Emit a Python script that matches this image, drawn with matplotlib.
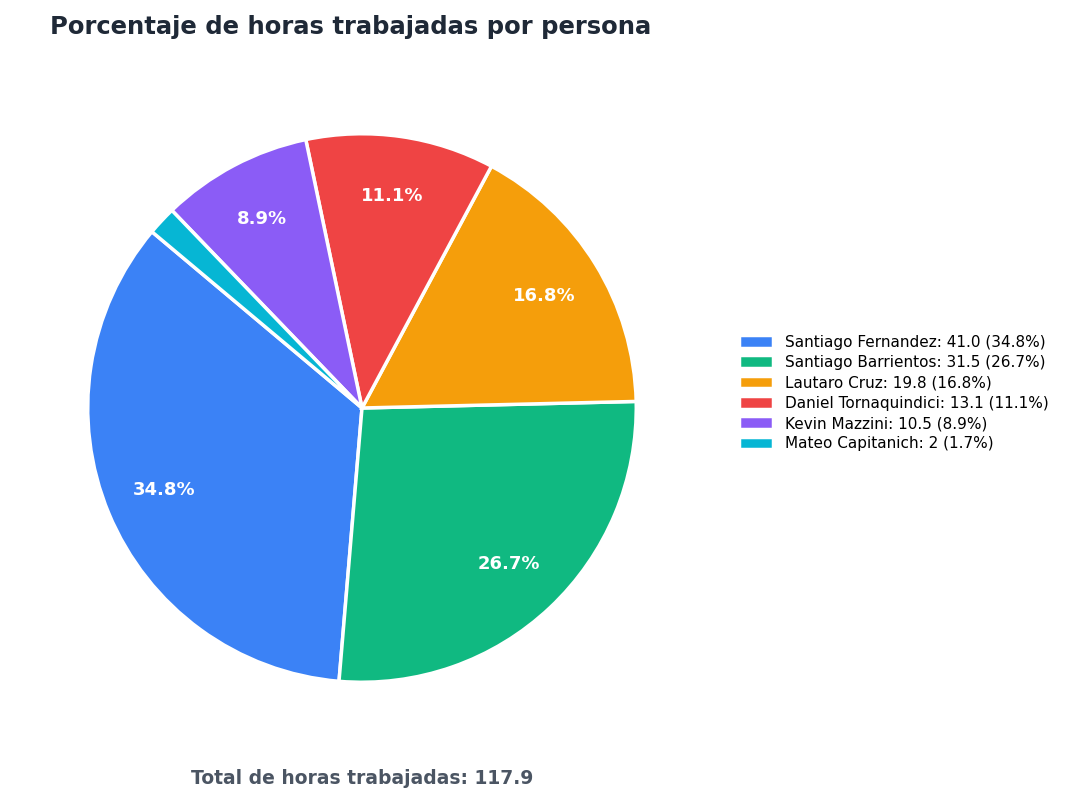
import matplotlib
matplotlib.use("Agg")
import matplotlib.pyplot as plt

names = ["Santiago Fernandez", "Santiago Barrientos", "Lautaro Cruz",
         "Daniel Tornaquindici", "Kevin Mazzini", "Mateo Capitanich"]
hours = [41.0, 31.5, 19.8, 13.1, 10.5, 2]
hour_labels = ["41.0", "31.5", "19.8", "13.1", "10.5", "2"]
colors = ["#3b82f6", "#10b981", "#f59e0b", "#ef4444", "#8b5cf6", "#06b6d4"]
total = 117.9

fig = plt.figure(figsize=(10.72, 8.02), dpi=100)
ax = fig.add_axes([85 / 1072, 117 / 802, 554 / 1072, 554 / 802])

def fmt(p):
    return f"{p:.1f}%" if p >= 5 else ""

wedges, _, autotexts = ax.pie(hours, colors=colors, startangle=140,
                              autopct=fmt, pctdistance=0.78,
                              wedgeprops=dict(edgecolor="white", linewidth=2.5))
for t in autotexts:
    t.set_color("white")
    t.set_fontsize(13)
    t.set_fontweight("bold")
ax.set_xlim(-1.01, 1.01)
ax.set_ylim(-1.01, 1.01)
ax.set_aspect("equal")

s = sum(hours)
legend_labels = [f"{n}: {h} ({v / s * 100:.1f}%)" for n, h, v in zip(names, hour_labels, hours)]
fig.legend(wedges, legend_labels, loc="center left", bbox_to_anchor=(0.677, 0.51),
           frameon=False, fontsize=11, handlelength=2.2, handleheight=0.9,
           labelspacing=0.35)

fig.text(50 / 1072, 1 - 27 / 802, "Porcentaje de horas trabajadas por persona",
         fontsize=17.5, fontweight="bold", color="#1f2937", va="center", ha="left")
fig.text(362 / 1072, 1 - 778 / 802, f"Total de horas trabajadas: {total}",
         fontsize=13.5, fontweight="bold", color="#4b5563", va="center", ha="center")

fig.savefig("out.png", dpi=100)
